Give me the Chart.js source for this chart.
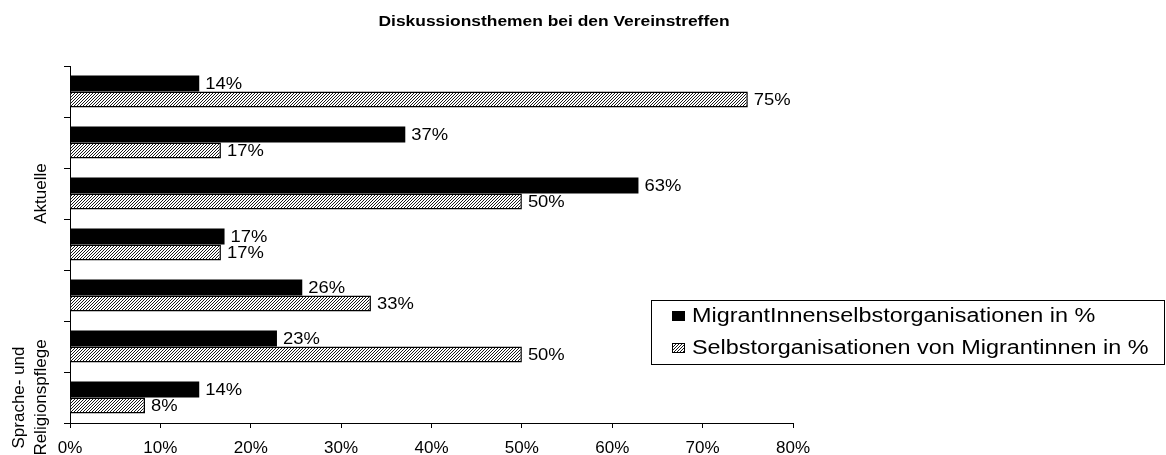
<!DOCTYPE html>
<html>
<head>
<meta charset="utf-8">
<script src="https://cdn.jsdelivr.net/npm/chart.js@4.4.1/dist/chart.umd.min.js"></script>
<style>
  html, body { margin: 0; padding: 0; background: #fff; }
</style>
</head>
<body>
<canvas id="grafico" width="1166" height="455"></canvas>
<script>
// Daten
const titel = 'Diskussionsthemen bei den Vereinstreffen';
const kategorien = [[''], [''], ['Aktuelle'], [''], [''], [''], ['Sprache- und', 'Religionspflege']];
const serienNamen = ['MigrantInnenselbstorganisationen in %', 'Selbstorganisationen von Migrantinnen in %'];
const migrantInnenWerte = [14.3, 37.1, 62.9, 17.1, 25.7, 22.9, 14.3];
const migrantinnenWerte = [75.0, 16.7, 50.0, 16.7, 33.3, 50.0, 8.3];
const xMin = 0;
const xMax = 80;
const xSchritt = 10;

const schrift = '"Liberation Sans", Arial, Helvetica, sans-serif';
Chart.defaults.font.family = schrift;
Chart.defaults.color = '#000';

const ctx = document.getElementById('grafico').getContext('2d');

// Schraffur fuer die zweite Serie
function schraffur() {
  const n = 3;
  const c = document.createElement('canvas');
  c.width = n; c.height = n;
  const g = c.getContext('2d');
  g.fillStyle = '#fff';
  g.fillRect(0, 0, n, n);
  g.strokeStyle = '#000';
  g.lineWidth = 0.9;
  g.beginPath();
  g.moveTo(0, n); g.lineTo(n, 0);
  g.moveTo(-1, 1); g.lineTo(1, -1);
  g.moveTo(n - 1, n + 1); g.lineTo(n + 1, n - 1);
  g.stroke();
  return ctx.createPattern(c, 'repeat');
}
const muster = schraffur();

// Text leicht in die Breite gezogen (wie im Original)
function textGestreckt(c, txt, x, y, font, sx, align) {
  c.save();
  c.font = font;
  c.fillStyle = '#000';
  c.textBaseline = 'middle';
  c.textAlign = align;
  c.translate(x, y);
  c.scale(sx, 1);
  c.fillText(txt, 0, 0);
  c.restore();
}

const wertLabels = {
  id: 'wertLabels',
  afterDatasetsDraw(chart) {
    const c = chart.ctx;
    chart.data.datasets.forEach((ds, i) => {
      const meta = chart.getDatasetMeta(i);
      meta.data.forEach((bar, j) => {
        const txt = Math.round(ds.data[j]) + '%';
        textGestreckt(c, txt, bar.x + 6, bar.y + 1, '16px ' + schrift, 1.15, 'left');
      });
    });
  }
};

const kategorieLabels = {
  id: 'kategorieLabels',
  afterDraw(chart) {
    const c = chart.ctx;
    const y = chart.scales.y;
    c.save();
    c.font = '17px ' + schrift;
    c.fillStyle = '#000';
    c.textAlign = 'center';
    c.textBaseline = 'alphabetic';
    kategorien.forEach((zeilen, i) => {
      const yMitte = y.getPixelForValue(i);
      zeilen.forEach((z, k) => {
        const xBasis = 46 - (zeilen.length - 1 - k) * 22;
        c.save();
        c.translate(xBasis, yMitte);
        c.rotate(-Math.PI / 2);
        c.fillText(z, 0, 0);
        c.restore();
      });
    });
    c.restore();
  }
};

const titelUndLegende = {
  id: 'titelUndLegende',
  afterDraw(chart) {
    const c = chart.ctx;
    textGestreckt(c, titel, 554, 22, 'bold 15px ' + schrift, 1.16, 'center');

    // Legende
    c.save();
    c.strokeStyle = '#000';
    c.lineWidth = 1;
    c.strokeRect(651.5, 300.5, 513, 64);
    const zeilenY = [316, 348];
    chart.data.datasets.forEach((ds, i) => {
      const yy = zeilenY[i];
      c.fillStyle = ds.backgroundColor;
      c.fillRect(672, yy - 5, 13, 10);
      if (ds.borderWidth) {
        c.strokeStyle = '#000';
        c.strokeRect(672.5, yy - 4.5, 12, 9);
      }
      textGestreckt(c, ds.label, 692, yy, '20px ' + schrift, 1.17, 'left');
    });
    c.restore();
  }
};

new Chart(ctx, {
  type: 'bar',
  data: {
    labels: kategorien.map(k => k.join(' ')),
    datasets: [
      {
        label: serienNamen[0],
        data: migrantInnenWerte,
        backgroundColor: '#000',
        borderColor: '#000',
        borderWidth: 0,
        categoryPercentage: 0.63,
        barPercentage: 1
      },
      {
        label: serienNamen[1],
        data: migrantinnenWerte,
        backgroundColor: muster,
        borderColor: '#000',
        borderWidth: 1.5,
        categoryPercentage: 0.63,
        barPercentage: 1
      }
    ]
  },
  options: {
    indexAxis: 'y',
    responsive: false,
    animation: false,
    devicePixelRatio: 1,
    layout: { padding: { left: 0, top: 66, right: 373, bottom: 0 } },
    plugins: {
      legend: { display: false },
      title: { display: false },
      tooltip: { enabled: false }
    },
    scales: {
      x: {
        min: xMin,
        max: xMax,
        ticks: {
          stepSize: xSchritt,
          callback: v => v + '%',
          font: { size: 17 },
          color: '#000',
          padding: 10,
          maxRotation: 0
        },
        grid: { drawOnChartArea: false, tickLength: 5, color: '#000' },
        border: { color: '#000', width: 1 },
        afterFit: s => { s.height = 32; }
      },
      y: {
        ticks: { display: false },
        grid: { drawOnChartArea: false, tickLength: 6, color: '#000', offset: true },
        border: { color: '#000', width: 1 },
        afterFit: s => { s.width = 70; }
      }
    }
  },
  plugins: [wertLabels, kategorieLabels, titelUndLegende]
});
</script>
</body>
</html>
